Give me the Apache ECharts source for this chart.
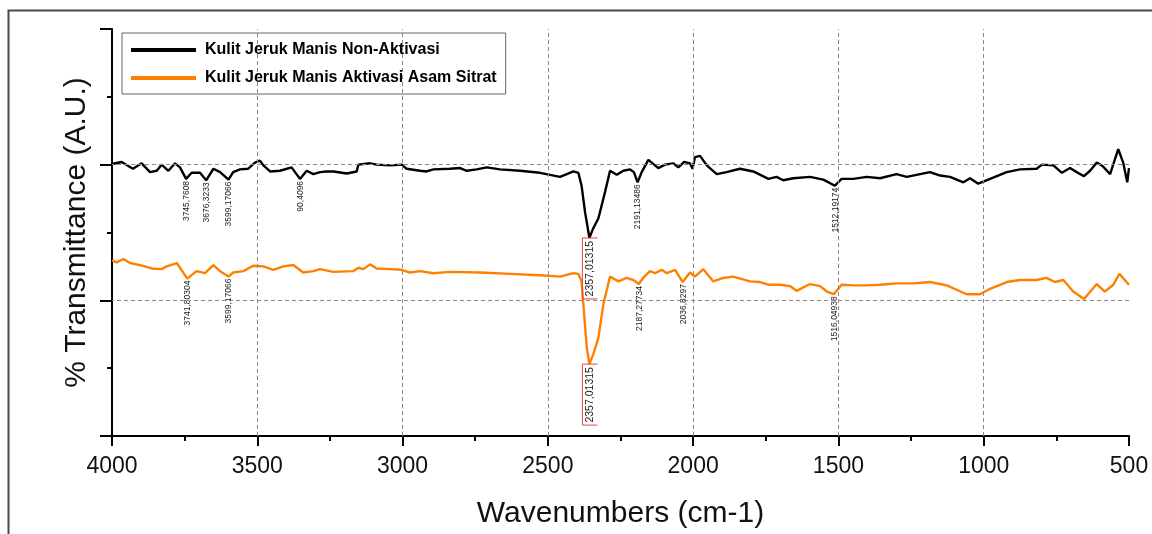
<!DOCTYPE html>
<html>
<head>
<meta charset="utf-8">
<script src="https://cdn.jsdelivr.net/npm/echarts@6/dist/echarts.min.js"></script>
<style>
  html, body { margin: 0; padding: 0; background: #fff; overflow: hidden; width: 100%; height: 100%; }
  #chart { width: 100vw; height: 100vh; }
</style>
</head>
<body>
<div id="chart"></div>
<script>
// FTIR spectra of sweet orange peel (wavenumber in cm-1, transmittance in arbitrary units)
const seriesNames = ['Kulit Jeruk Manis Non-Aktivasi', 'Kulit Jeruk Manis Aktivasi Asam Sitrat'];

const nonAktivasiWn = [4000,3967,3928,3898,3869,3846,3829,3806,3783,3766,
  3745,3726,3697,3676,3651,3628,3599,3583,3560,3531,
  3508,3491,3479,3456,3422,3382,3353,3330,3307,3284,
  3261,3238,3192,3158,3152,3112,3089,3043,3003,2986,
  2940,2917,2894,2837,2802,2779,2745,2710,2665,2596,
  2527,2458,2412,2395,2384,2372,2357,2344,2326,2303,
  2286,2263,2240,2217,2204,2191,2177,2154,2120,2097,
  2068,2051,2031,2011,2002,1994,1976,1953,1919,1885,
  1839,1793,1741,1713,1690,1655,1598,1552,1512,1489,
  1449,1403,1357,1300,1265,1185,1150,1116,1070,1047,
  1019,978,921,875,818,800,760,731,703,680,
  655,634,611,591,565,537,520,506,500];
const nonAktivasiT = [40.1,40.4,39.4,40.2,38.9,39.1,40.0,39.1,40.2,39.6,
  37.9,38.8,38.8,37.7,39.4,38.9,37.8,38.9,39.3,39.4,
  40.3,40.6,39.9,39.0,39.1,39.6,37.9,39.1,38.6,38.9,
  39.0,39.0,38.7,39.0,40.0,40.2,40.0,39.9,40.0,39.4,
  39.1,39.0,39.3,39.4,39.5,39.1,39.3,39.6,39.3,39.1,
  38.8,38.2,39.0,38.8,36.9,33.0,29.2,30.6,32.1,36.0,
  39.1,38.5,39.1,39.3,38.9,37.4,38.9,40.7,39.5,40.0,
  40.2,39.6,40.4,40.2,39.4,41.1,41.3,39.9,38.6,38.9,
  39.4,39.0,37.9,38.2,37.7,38.0,38.2,37.8,36.9,37.9,
  37.9,38.2,38.0,38.6,38.2,38.9,38.4,38.2,37.4,38.0,
  37.2,37.9,38.9,39.3,39.4,40.0,39.9,38.8,39.5,38.9,
  38.3,39.1,40.3,39.8,38.6,42.3,40.3,37.4,39.5];

const asamSitratWn = [4000,3984,3961,3938,3904,3863,3829,3812,3777,3741,
  3709,3680,3651,3628,3599,3583,3548,3514,3479,3445,
  3410,3376,3342,3307,3284,3238,3170,3152,3135,3112,
  3089,3043,3003,2974,2940,2894,2837,2734,2630,2527,
  2458,2412,2395,2384,2366,2357,2344,2326,2309,2286,
  2257,2229,2206,2187,2172,2149,2131,2108,2091,2062,
  2036,2011,1994,1965,1931,1896,1862,1804,1770,1741,
  1701,1667,1644,1598,1563,1540,1516,1489,1449,1403,
  1357,1300,1242,1185,1127,1059,1013,978,921,
  875,818,784,755,726,692,655,611,583,554,
  533,500];
const asamSitratT = [25.9,25.6,26.1,25.5,25.2,24.7,24.6,25.0,25.5,23.2,
  24.3,24.0,25.2,24.3,23.5,24.1,24.3,25.1,25.0,24.5,
  25.0,25.2,24.1,24.3,24.6,24.2,24.3,24.8,24.6,25.3,
  24.7,24.6,24.5,24.1,24.3,24.0,24.2,24.1,23.9,23.7,
  23.5,24.0,23.9,22.8,13.0,10.6,12.0,14.5,19.4,23.5,
  22.8,23.3,23.0,22.4,23.3,24.3,24.0,24.5,24.0,24.5,
  22.7,24.1,23.5,24.6,22.8,23.3,23.5,22.8,22.7,22.3,
  22.3,22.1,21.4,22.4,22.1,21.3,20.9,22.3,22.2,22.2,
  22.3,22.5,22.5,22.7,22.2,20.9,20.9,21.7,22.7,
  23.0,23.0,23.3,22.7,23.0,21.3,20.2,22.4,21.3,22.3,
  23.9,22.3];

// Peak labels: wavenumber where the label hangs, and its text
const nonAktivasiPeakWn = [3745, 3676, 3599, 3353, 2357, 2191, 1512];
const nonAktivasiPeakText = ['3745,7608', '3676,3233', '3599,17066', '90,4096', '2357,01315', '2191,13486', '1512,19174'];
const asamSitratPeakWn = [3741, 3599, 2357, 2187, 2036, 1516];
const asamSitratPeakText = ['3741,80304', '3599,17066', '2357,01315', '2187,27734', '2036,8297', '1516,04938'];
const boxedPeakWn = 2357;

// Axis ticks and dashed reference lines
const xTicks = [4000, 3500, 3000, 2500, 2000, 1500, 1000, 500];
const xGridValues = [3500, 3000, 2500, 2000, 1500, 1000];
const yGridValues = [20, 40];

const FONT = 'Liberation Sans, Arial, sans-serif';
const BLACK = '#000000';
const ORANGE = '#ff8000';

function zipPairs(xs, ys) { return xs.map((x, i) => [x, ys[i]]); }
function valueAt(xs, ys, w) { return ys[xs.indexOf(w)]; }

const peaks = [];
nonAktivasiPeakWn.forEach((w, i) => peaks.push({ wn: w, v: valueAt(nonAktivasiWn, nonAktivasiT, w), text: nonAktivasiPeakText[i], boxed: w === boxedPeakWn }));
asamSitratPeakWn.forEach((w, i) => peaks.push({ wn: w, v: valueAt(asamSitratWn, asamSitratT, w), text: asamSitratPeakText[i], boxed: w === boxedPeakWn }));

const el = document.getElementById('chart');
const chart = echarts.init(el, null, { renderer: 'canvas', width: 1152, height: 534 });

const option = {
  animation: false,
  backgroundColor: '#ffffff',
  textStyle: { fontFamily: FONT },
  graphic: [
    { type: 'polyline', shape: { points: [[8.5, 534], [8.5, 10.5], [1152, 10.5]] },
      style: { stroke: '#4a4a4a', lineWidth: 2, fill: null }, silent: true }
  ],
  legend: {
    data: seriesNames,
    orient: 'vertical',
    left: 122, top: 33,
    padding: [7, 9, 6, 9],
    itemGap: 8,
    itemWidth: 65, itemHeight: 4,
    icon: 'rect',
    borderColor: '#666', borderWidth: 1,
    textStyle: { fontFamily: FONT, fontSize: 16, fontWeight: 'bold', color: '#000', lineHeight: 20, padding: [0, 0, 0, 4] }
  },
  grid: { left: 112, right: 23, top: 29, bottom: 93 },
  xAxis: {
    type: 'value', min: 500, max: 4000, interval: 500, inverse: true,
    name: 'Wavenumbers (cm-1)', nameLocation: 'middle', nameGap: 63,
    nameTextStyle: { fontFamily: FONT, fontSize: 30, color: '#111' },
    axisLine: { show: true, onZero: false, lineStyle: { color: '#000', width: 2 } },
    axisTick: { show: true, length: 10, lineStyle: { color: '#000', width: 2 } },
    minorTick: { show: true, splitNumber: 2, length: 5, lineStyle: { color: '#000', width: 2 } },
    axisLabel: { fontFamily: FONT, fontSize: 23, color: '#111', margin: 19,
      formatter: v => (xTicks.indexOf(v) >= 0 ? String(v) : '') },
    splitLine: { show: false }
  },
  yAxis: {
    type: 'value', min: 0, max: 60, interval: 20,
    name: '% Transmittance (A.U.)', nameLocation: 'middle', nameGap: 20,
    nameTextStyle: { fontFamily: FONT, fontSize: 30, color: '#111' },
    axisLine: { show: true, onZero: false, lineStyle: { color: '#000', width: 2 } },
    axisTick: { show: true, length: 12, lineStyle: { color: '#000', width: 2 } },
    minorTick: { show: true, splitNumber: 2, length: 5, lineStyle: { color: '#000', width: 2 } },
    axisLabel: { show: false },
    splitLine: { show: false }
  },
  series: [
    {
      name: 'grid', type: 'line', data: [], z: 1, silent: true,
      markLine: {
        silent: true, symbol: ['none', 'none'], label: { show: false },
        lineStyle: { type: [4, 3], color: '#8a8a8a', width: 1 },
        data: xGridValues.map(v => ({ xAxis: v })).concat(yGridValues.map(v => ({ yAxis: v })))
      }
    },
    {
      name: seriesNames[0], type: 'line', z: 3,
      data: zipPairs(nonAktivasiWn, nonAktivasiT),
      showSymbol: false, symbol: 'none',
      color: BLACK, lineStyle: { color: BLACK, width: 2.4 }
    },
    {
      name: seriesNames[1], type: 'line', z: 3,
      data: zipPairs(asamSitratWn, asamSitratT),
      showSymbol: false, symbol: 'none',
      color: ORANGE, lineStyle: { color: ORANGE, width: 2.4 }
    },
    {
      name: 'peaks', type: 'custom', z: 4, silent: true,
      data: peaks.map(p => [p.wn, p.v]),
      renderItem: function (params, api) {
        const pk = peaks[params.dataIndex];
        const pt = api.coord([pk.wn, pk.v]);
        const size = pk.boxed ? 10.5 : 8.5;
        const children = [{
          type: 'text', x: pt[0] + 0.5, y: pt[1] + (pk.boxed ? 3 : 2), rotation: Math.PI / 2,
          style: { text: pk.text, fontFamily: FONT, fontSize: size, fill: '#1a1a1a', align: 'right', verticalAlign: 'middle' }
        }];
        if (pk.boxed) {
          const h = 61;
          children.push({
            type: 'polyline',
            shape: { points: [[pt[0] + 8, pt[1]], [pt[0] - 7, pt[1]], [pt[0] - 7, pt[1] + h], [pt[0] + 8, pt[1] + h]] },
            style: { stroke: '#e8463f', lineWidth: 1, fill: null }
          });
        }
        return { type: 'group', children: children };
      }
    }
  ]
};

chart.setOption(option);
</script>
</body>
</html>
